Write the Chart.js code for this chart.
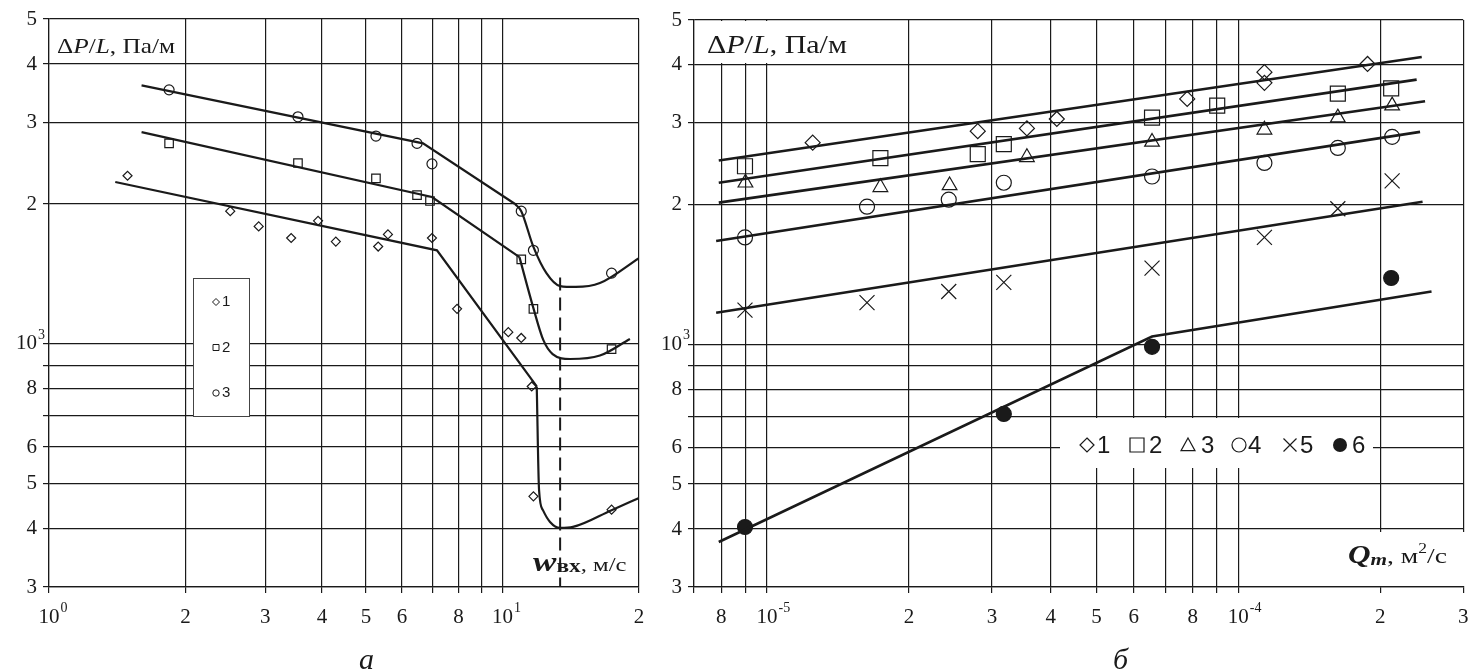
<!DOCTYPE html>
<html>
<head>
<meta charset="utf-8">
<script src="https://cdn.jsdelivr.net/npm/chart.js@4.4.0/dist/chart.umd.min.js"></script>
<style>
  body { margin: 0; background: #fff; }
  #wrap { position: relative; width: 1475px; height: 672px; overflow: hidden; }
  canvas { position: absolute; top: 0; }
  #chartA { left: 0; }
  #chartB { left: 640px; }
</style>
</head>
<body>
<div id="wrap">
  <canvas id="chartA" width="660" height="672"></canvas>
  <canvas id="chartB" width="835" height="672"></canvas>
</div>
<script>
// ---- panel a: w_in (m/s) vs dP/L (Pa/m)
const aXTicks = [1, 2, 3, 4, 5, 6, 7, 8, 9, 10, 20];
const aXLabels = ['10^0', '2', '3', '4', '5', '6', '', '8', '', '10^1', '2'];
const yTicks = [300, 400, 500, 600, 700, 800, 900, 1000, 2000, 3000, 4000, 5000];
const yLabels = ['3', '4', '5', '6', '', '8', '', '10^3', '2', '3', '4', '5'];
const aNames = ['1', '2', '3'];

const aX1 = [1.49, 2.51, 2.90, 3.42, 3.92, 4.29, 5.32, 5.59, 6.99, 7.94, 10.3, 11.0, 11.6, 11.7, 17.4];
const aY1 = [2300, 1930, 1790, 1690, 1840, 1660, 1620, 1720, 1690, 1190, 1060, 1030, 810, 470, 440];
const aX2 = [1.84, 3.54, 5.26, 6.48, 6.92, 11.0, 11.7, 17.4];
const aY2 = [2700, 2450, 2270, 2090, 2030, 1520, 1190, 975];
const aX3 = [1.84, 3.54, 5.26, 6.48, 6.99, 11.0, 11.7, 17.4];
const aY3 = [3520, 3080, 2800, 2700, 2440, 1930, 1590, 1420];

// fitted curves: straight part + bent part
const aFit1X = [1.40, 7.17, 11.9];
const aFit1Y = [2230, 1590, 810];
const aBend1X = [11.9, 12.04, 12.28, 12.73, 13.4, 14.3, 17.4, 20];
const aBend1Y = [810, 485, 439, 414, 402, 404, 439, 466];
const aFit2X = [1.60, 6.99, 10.9];
const aFit2Y = [2855, 2070, 1537];
const aBend2X = [10.9, 11.7, 12.3, 12.9, 14.1, 16.4, 19.1];
const aBend2Y = [1537, 1194, 1020, 951, 928, 944, 1025];
const aFit3X = [1.60, 6.68, 10.66];
const aFit3Y = [3600, 2700, 2000];
const aBend3X = [10.66, 11.0, 11.7, 12.5, 13.4, 14.5, 16.4, 20];
const aBend3Y = [2000, 1930, 1617, 1420, 1332, 1326, 1352, 1530];
const aDashX = [13.4, 13.4];
const aDashY = [1390, 300];

// ---- panel b: Q_m (m2/s) vs dP/L (Pa/m)
const bXTicks = [7e-6, 8e-6, 9e-6, 1e-5, 2e-5, 3e-5, 4e-5, 5e-5, 6e-5, 7e-5, 8e-5, 9e-5, 1e-4, 2e-4, 3e-4];
const bXLabels = ['', '8', '', '10^-5', '2', '3', '4', '5', '6', '', '8', '', '10^-4', '2', '3'];
const bNames = ['1', '2', '3', '4', '5', '6'];

const bX1 = [1.25e-5, 2.80e-5, 3.56e-5, 4.12e-5, 7.79e-5, 1.136e-4, 1.136e-4, 1.88e-4];
const bY1 = [2720, 2880, 2920, 3060, 3380, 3860, 3660, 4020];
const bX2 = [8.98e-6, 1.74e-5, 2.80e-5, 3.18e-5, 6.56e-5, 9.02e-5, 1.626e-4, 2.11e-4];
const bY2 = [2420, 2520, 2570, 2700, 3080, 3270, 3470, 3560];
const bX3 = [9.0e-6, 1.74e-5, 2.44e-5, 3.56e-5, 6.56e-5, 1.136e-4, 1.626e-4, 2.12e-4];
const bY3 = [2230, 2180, 2200, 2530, 2730, 2900, 3080, 3270];
const bX4 = [8.98e-6, 1.63e-5, 2.43e-5, 3.18e-5, 6.56e-5, 1.136e-4, 1.626e-4, 2.12e-4];
const bY4 = [1700, 1980, 2050, 2230, 2300, 2460, 2650, 2800];
const bX5 = [8.98e-6, 1.63e-5, 2.43e-5, 3.18e-5, 6.56e-5, 1.136e-4, 1.626e-4, 2.12e-4];
const bY5 = [1185, 1230, 1300, 1360, 1460, 1700, 1960, 2250];
const bX6 = [8.98e-6, 3.18e-5, 6.56e-5, 2.11e-4];
const bY6 = [404, 708, 988, 1390];

const bFit1X = [7.9e-6, 2.45e-4];  const bFit1Y = [2490, 4160];
const bFit2X = [7.9e-6, 2.39e-4];  const bFit2Y = [2230, 3720];
const bFit3X = [7.9e-6, 2.49e-4];  const bFit3Y = [2020, 3340];
const bFit4X = [7.8e-6, 2.43e-4];  const bFit4Y = [1670, 2870];
const bFit5X = [7.8e-6, 2.46e-4];  const bFit5Y = [1170, 2030];
const bFit6X = [7.9e-6, 6.56e-5, 2.57e-4];  const bFit6Y = [375, 1040, 1300];

const ink = '#1a1a1a';
const serif = '"Liberation Serif", "Times New Roman", serif';
const sans = '"Liberation Sans", Arial, sans-serif';

function pts(xs, ys) { return xs.map((x, i) => ({ x: x, y: ys[i] })); }

function marks(xs, ys, style, r, fill) {
  return {
    data: pts(xs, ys), showLine: false, pointStyle: style, pointRadius: r,
    pointBorderColor: ink, pointBackgroundColor: fill || 'rgba(0,0,0,0)', pointBorderWidth: 1.2
  };
}

function fit(xs, ys, w, bent, dash) {
  return {
    data: pts(xs, ys), showLine: true, pointRadius: 0, borderColor: ink, borderWidth: w,
    tension: bent ? 0.4 : 0, cubicInterpolationMode: bent ? 'monotone' : 'default',
    borderDash: dash || []
  };
}

function logAxis(min, max, ticks, pos, size) {
  return {
    type: 'logarithmic', position: pos, min: min, max: max,
    afterBuildTicks: s => { s.ticks = ticks.map(v => ({ value: v })); },
    afterFit: s => { if (pos === 'bottom') s.height = size; else s.width = size; },
    ticks: { display: false },
    grid: { color: ink, lineWidth: 1.2, tickLength: 6 },
    border: { color: ink, width: 1.2 }
  };
}

// tick label with optional exponent, e.g. '10^-5'
function put(ctx, label, x, y, align) {
  if (!label) return;
  const parts = label.split('^');
  ctx.font = '21px ' + serif;
  const w = ctx.measureText(parts[0]).width;
  const left = align === 'center' ? x - w / 2 : x - w;
  ctx.textAlign = 'left';
  ctx.textBaseline = 'middle';
  ctx.fillText(parts[0], left, y);
  if (parts[1]) {
    ctx.font = '14px ' + serif;
    ctx.fillText(parts[1], left + w + 1, y - 9);
  }
}

// mixed-style text run, optionally stretched horizontally
function rich(ctx, x, y, runs, sx) {
  ctx.save();
  ctx.translate(x, y);
  ctx.scale(sx || 1, 1);
  ctx.textAlign = 'left';
  ctx.textBaseline = 'alphabetic';
  let cx = 0;
  runs.forEach(r => {
    ctx.font = r.f;
    ctx.fillText(r.t, cx, r.dy || 0);
    cx += ctx.measureText(r.t).width;
  });
  ctx.restore();
}

function sym(ctx, kind, x, y, s) {
  ctx.beginPath();
  if (kind === 'diamond') {
    ctx.moveTo(x, y - s); ctx.lineTo(x + s, y); ctx.lineTo(x, y + s); ctx.lineTo(x - s, y); ctx.closePath();
  } else if (kind === 'square') {
    ctx.rect(x - s, y - s, 2 * s, 2 * s);
  } else if (kind === 'triangle') {
    ctx.moveTo(x, y - s); ctx.lineTo(x + s, y + s * 0.8); ctx.lineTo(x - s, y + s * 0.8); ctx.closePath();
  } else if (kind === 'cross') {
    ctx.moveTo(x - s, y - s); ctx.lineTo(x + s, y + s); ctx.moveTo(x + s, y - s); ctx.lineTo(x - s, y + s);
  } else {
    ctx.arc(x, y, s, 0, Math.PI * 2);
  }
  if (kind === 'dot') ctx.fill(); else ctx.stroke();
}

const tickLabels = (xLabels, yLabels) => ({
  id: 'tickLabels',
  afterDraw(chart) {
    const ctx = chart.ctx, xs = chart.scales.x, ys = chart.scales.y, area = chart.chartArea;
    ctx.save();
    ctx.fillStyle = ink;
    xs.ticks.forEach((t, i) => put(ctx, xLabels[i], xs.getPixelForValue(t.value), area.bottom + 30, 'center'));
    ys.ticks.forEach((t, i) => put(ctx, yLabels[i], area.left - 12, ys.getPixelForValue(t.value), 'right'));
    ctx.restore();
  }
});

const extrasA = {
  id: 'extrasA',
  afterDraw(chart) {
    const ctx = chart.ctx;
    ctx.save();
    ctx.fillStyle = ink;
    ctx.strokeStyle = ink;
    rich(ctx, 57, 53, [
      { t: 'Δ', f: '22px ' + serif }, { t: 'P', f: 'italic 22px ' + serif },
      { t: '/', f: '22px ' + serif }, { t: 'L', f: 'italic 22px ' + serif },
      { t: ', Па/м', f: '22px ' + serif }
    ], 1.15);
    rich(ctx, 533, 571, [
      { t: 'w', f: 'bold italic 27px ' + serif },
      { t: 'вх', f: 'bold 18px ' + serif, dy: 1 },
      { t: ', м/с', f: '19px ' + serif }
    ], 1.3);
    // legend
    ctx.fillStyle = '#fff';
    ctx.fillRect(193, 278, 56, 138);
    ctx.strokeStyle = '#444';
    ctx.lineWidth = 1;
    ctx.strokeRect(193.5, 278.5, 56, 138);
    const kinds = ['diamond', 'square', 'circle'];
    const sizes = [3.5, 3, 3.2];
    aNames.forEach((n, i) => {
      const y = 302 + i * 45.5;
      ctx.strokeStyle = ink;
      ctx.lineWidth = 1;
      sym(ctx, kinds[i], 216, y, sizes[i]);
      ctx.fillStyle = ink;
      ctx.font = '15px ' + sans;
      ctx.textAlign = 'left';
      ctx.textBaseline = 'middle';
      ctx.fillText(n, 222, y);
    });
    ctx.font = 'italic 30px ' + serif;
    ctx.textBaseline = 'alphabetic';
    ctx.fillText('а', 359, 669);
    ctx.restore();
  }
};

const extrasB = {
  id: 'extrasB',
  afterDraw(chart) {
    const ctx = chart.ctx;
    ctx.save();
    ctx.fillStyle = '#fff';
    ctx.fillRect(55, 21, 155, 42);
    ctx.fillRect(420, 418, 313, 50);
    ctx.fillRect(660, 532, 165, 54);
    ctx.fillStyle = ink;
    rich(ctx, 67, 53, [
      { t: 'Δ', f: '25px ' + serif }, { t: 'P', f: 'italic 25px ' + serif },
      { t: '/', f: '25px ' + serif }, { t: 'L', f: 'italic 25px ' + serif },
      { t: ', Па/м', f: '25px ' + serif }
    ], 1.2);
    rich(ctx, 708, 563, [
      { t: 'Q', f: 'bold italic 25px ' + serif },
      { t: 'm', f: 'bold italic 17px ' + serif, dy: 2 },
      { t: ', м', f: '22px ' + serif },
      { t: '2', f: '14px ' + serif, dy: -10 },
      { t: '/с', f: '22px ' + serif }
    ], 1.25);
    // legend
    const kinds = ['diamond', 'square', 'triangle', 'circle', 'cross', 'dot'];
    const symX = [447, 497, 548, 599, 650, 700];
    const txtX = [457, 509, 561, 608, 660, 712];
    ctx.strokeStyle = ink;
    ctx.lineWidth = 1.2;
    bNames.forEach((n, i) => {
      sym(ctx, kinds[i], symX[i], 445, kinds[i] === 'cross' ? 6.5 : 7);
      ctx.font = '24px ' + sans;
      ctx.textAlign = 'left';
      ctx.textBaseline = 'middle';
      ctx.fillText(n, txtX[i], 446);
    });
    ctx.font = 'italic 30px ' + serif;
    ctx.textBaseline = 'alphabetic';
    ctx.fillText('б', 473, 669);
    ctx.restore();
  }
};

const common = {
  responsive: false, animation: false, events: [],
  plugins: { legend: { display: false }, tooltip: { enabled: false } }
};

new Chart(document.getElementById('chartA'), {
  type: 'scatter',
  data: {
    datasets: [
      fit(aFit1X, aFit1Y, 2.2), fit(aBend1X, aBend1Y, 2.2, true),
      fit(aFit2X, aFit2Y, 2.2), fit(aBend2X, aBend2Y, 2.2, true),
      fit(aFit3X, aFit3Y, 2.2), fit(aBend3X, aBend3Y, 2.2, true),
      fit(aDashX, aDashY, 2, false, [13, 7]),
      marks(aX1, aY1, 'rectRot', 4.5),
      marks(aX2, aY2, 'rect', 6),
      marks(aX3, aY3, 'circle', 5)
    ]
  },
  options: Object.assign({}, common, {
    layout: { padding: { top: 19, right: 21, left: 0, bottom: 0 } },
    scales: {
      x: logAxis(1, 20, aXTicks, 'bottom', 85),
      y: logAxis(300, 5000, yTicks, 'left', 49)
    }
  }),
  plugins: [tickLabels(aXLabels, yLabels), extrasA]
});

new Chart(document.getElementById('chartB'), {
  type: 'scatter',
  data: {
    datasets: [
      fit(bFit1X, bFit1Y, 2.6), fit(bFit2X, bFit2Y, 2.6), fit(bFit3X, bFit3Y, 2.6),
      fit(bFit4X, bFit4Y, 2.6), fit(bFit5X, bFit5Y, 2.6), fit(bFit6X, bFit6Y, 2.6),
      marks(bX1, bY1, 'rectRot', 7.5),
      marks(bX2, bY2, 'rect', 10.6),
      marks(bX3, bY3, 'triangle', 8.5),
      marks(bX4, bY4, 'circle', 7.5),
      marks(bX5, bY5, 'crossRot', 10.6),
      marks(bX6, bY6, 'circle', 7.5, ink)
    ]
  },
  options: Object.assign({}, common, {
    layout: { padding: { top: 20, right: 9, left: 0, bottom: 0 } },
    scales: {
      x: logAxis(7e-6, 3e-4, bXTicks, 'bottom', 85),
      y: logAxis(300, 5000, yTicks, 'left', 54)
    }
  }),
  plugins: [tickLabels(bXLabels, yLabels), extrasB]
});
</script>
</body>
</html>
